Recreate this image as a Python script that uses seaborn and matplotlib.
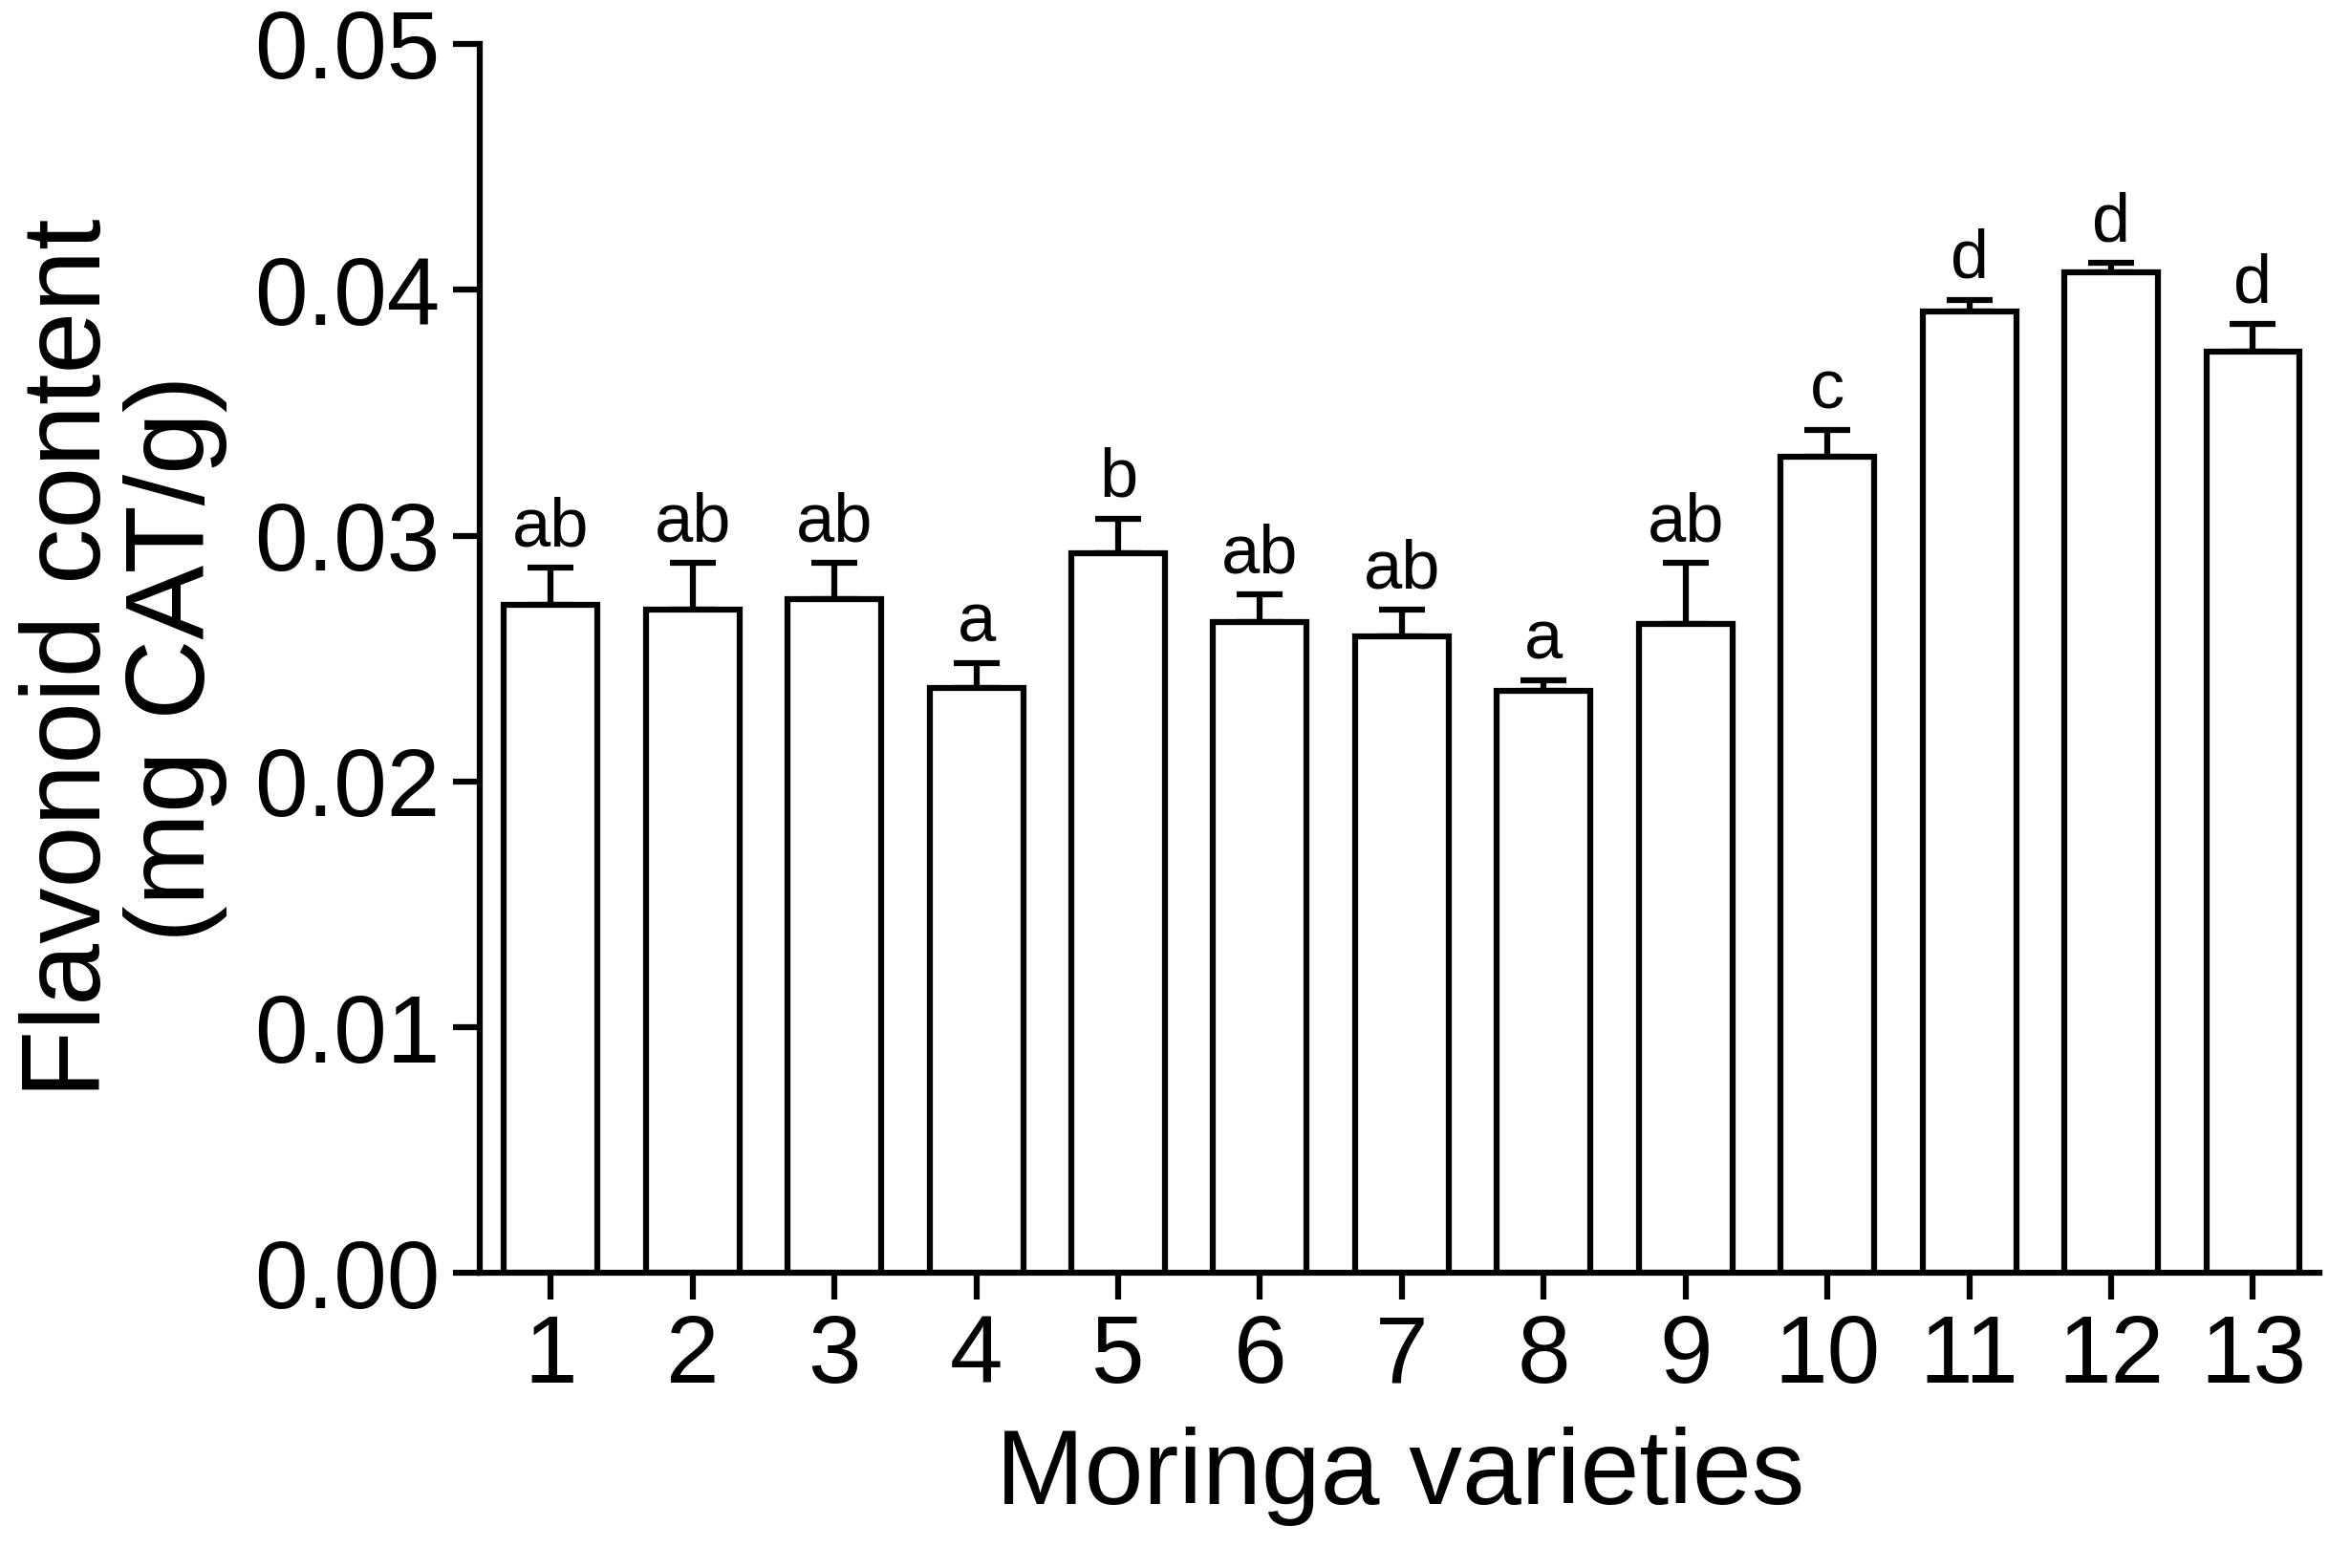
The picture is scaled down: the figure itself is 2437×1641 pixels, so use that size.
import numpy as np
import pandas as pd
import matplotlib
matplotlib.use("Agg")
import matplotlib.pyplot as plt
import seaborn as sns

varieties = [str(i) for i in range(1, 14)]
means = [0.0272, 0.0270, 0.0274, 0.0238, 0.0293, 0.0265, 0.0259, 0.0237,
         0.0264, 0.0332, 0.0391, 0.0407, 0.0375]
errors = [0.0015, 0.0019, 0.0015, 0.0010, 0.0014, 0.0011, 0.0011, 0.0004,
          0.0025, 0.0011, 0.0005, 0.0004, 0.0011]
letters = ["ab", "ab", "ab", "a", "b", "ab", "ab", "a", "ab", "c", "d", "d", "d"]

df = pd.DataFrame({"variety": varieties, "mean": means})

plt.rcParams["font.family"] = "Liberation Sans"
lw = 4.5

fig = plt.figure(figsize=(24.37, 16.41), dpi=100)
ax = fig.add_axes([0.206, 0.188, 0.79, 0.784])

sns.barplot(data=df, x="variety", y="mean", color="white", edgecolor="black",
            linewidth=lw, width=0.66, errorbar=None, ax=ax)
x = np.arange(len(varieties))
ax.errorbar(x, means, yerr=[np.zeros(len(errors)), errors], fmt="none",
            ecolor="black", elinewidth=lw, capsize=17, capthick=lw, zorder=1)
for p in ax.patches:
    p.set_zorder(2)

for xi, m, e, t in zip(x, means, errors, letters):
    ax.text(xi, m + e + 0.0003, t, ha="center", va="bottom", fontsize=52)

ax.set_ylim(0, 0.05)
ax.set_xlim(-0.5, 12.47)
ax.set_yticks(np.arange(0, 0.051, 0.01))
ax.set_yticklabels([f"{v:.2f}" for v in np.arange(0, 0.051, 0.01)])
ax.tick_params(axis="both", labelsize=72, width=lw, length=20, direction="out", pad=10)
ax.set_xlabel("Moringa varieties", fontsize=80, labelpad=18)
ax.set_ylabel("Flavonoid content\n(mg CAT/g)", fontsize=84, labelpad=20, linespacing=1.0)
sns.despine(ax=ax)
for s in ["left", "bottom"]:
    ax.spines[s].set_linewidth(lw)

fig.savefig("out.png", dpi=100)
